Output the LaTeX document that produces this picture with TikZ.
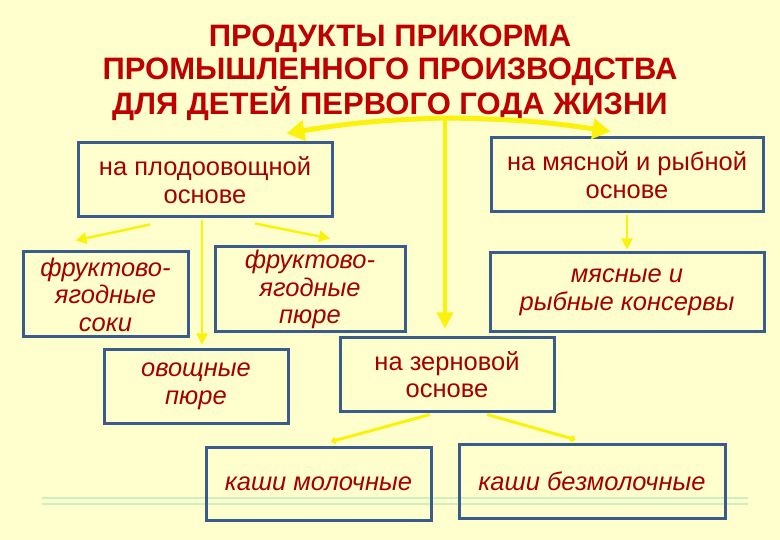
\documentclass[tikz,border=0pt]{standalone}
\usepackage{fontspec}
\setmainfont{Liberation Sans}
\usetikzlibrary{arrows.meta}
\definecolor{bg}{RGB}{255,255,206}
\definecolor{txt}{RGB}{165,0,0}
\definecolor{ttl}{RGB}{190,0,0}
\definecolor{frame}{RGB}{58,92,138}
\definecolor{yel}{RGB}{250,242,10}
\definecolor{grn}{RGB}{205,240,195}
\tikzset{
  box/.style={draw=frame, line width=3pt, align=center, text=txt, inner sep=0pt,
    font=\fontsize{25.5}{27.5}\selectfont},
  itbox/.style={box, font=\fontsize{25.5}{27.5}\selectfont\itshape},
  bigarrow/.style={draw=yel, line width=5pt, -{Triangle[length=18pt,width=20pt]}},
  midarrow/.style={draw=yel, line width=3.5pt, -{Triangle[length=16pt,width=16pt]}},
  smallarrow/.style={draw=yel, line width=2.5pt, -{Triangle[length=11pt,width=11pt]}},
  tinyarrow/.style={draw=yel, line width=3pt, -{Circle[length=6pt,width=6pt]}},
  deco/.style={draw=grn, line width=2pt}
}
\begin{document}
\begin{tikzpicture}[x=1pt,y=-1pt]
\fill[bg] (0,0) rectangle (780,540);
\useasboundingbox (0,0) rectangle (780,540);
% decorative lines
\draw[deco] (42,498) -- (748,498);
\draw[deco] (42,504) -- (748,504);
% title
\node[align=center, text=ttl, font=\fontsize{31}{33}\selectfont\bfseries] (T) at (390,73)
  {ПРОДУКТЫ ПРИКОРМА\\ПРОМЫШЛЕННОГО ПРОИЗВОДСТВА\\ДЛЯ ДЕТЕЙ ПЕРВОГО ГОДА ЖИЗНИ};
% boxes
\node[box, minimum width=254pt, minimum height=74pt] (A) at (205,180) {на плодоовощной\\основе};
\node[box, minimum width=272pt, minimum height=74pt] (B) at (627,175) {на мясной и рыбной\\основе};
\node[itbox, minimum width=165pt, minimum height=85pt] (C) at (105.5,294.5) {фруктово-\\ягодные\\соки};
\node[itbox, minimum width=190pt, minimum height=85pt] (D) at (310,289.5) {фруктово-\\ягодные\\пюре};
\node[itbox, minimum width=274pt, minimum height=79pt] (E) at (627,292.5) {мясные и\\рыбные консервы};
\node[itbox, minimum width=184pt, minimum height=73pt] (F) at (196,386.5) {овощные\\пюре};
\node[box, minimum width=214pt, minimum height=73pt] (G) at (447,374.5) {на зерновой\\основе};
\node[itbox, minimum width=225pt, minimum height=73pt] (H) at (318.5,483.5) {каши молочные};
\node[itbox, minimum width=266pt, minimum height=74pt] (I) at (592,481) {каши безмолочные};
% connectors
\coordinate (J) at (445,118);
\coordinate (Gt) at ([yshift=8pt]G.north);
\draw[bigarrow] (J) to[bend right=4] ([xshift=-47pt,yshift=8pt]A.north east);
\draw[bigarrow] (J) to[bend left=4] ([xshift=121pt,yshift=5pt]B.north west);
\draw[midarrow] (J) -- (J |- Gt);
\draw[smallarrow] ([xshift=-55pt,yshift=-6pt]A.south) -- ([xshift=-30pt,yshift=10pt]C.north);
\draw[smallarrow] ([xshift=50pt,yshift=-5pt]A.south) -- ([xshift=20pt,yshift=7pt]D.north);
\draw[smallarrow] ([xshift=-3pt,yshift=-2pt]A.south) -- ([xshift=6pt,yshift=4pt]F.north);
\draw[smallarrow] ([yshift=-2pt]B.south) -- ([yshift=2pt]E.north);
\draw[tinyarrow] ([xshift=-17pt,yshift=-2pt]G.south) -- ([xshift=13pt,yshift=4pt]H.north);
\draw[tinyarrow] ([xshift=40pt,yshift=-2pt]G.south) -- ([xshift=-17pt,yshift=3pt]I.north);
\end{tikzpicture}
\end{document}
